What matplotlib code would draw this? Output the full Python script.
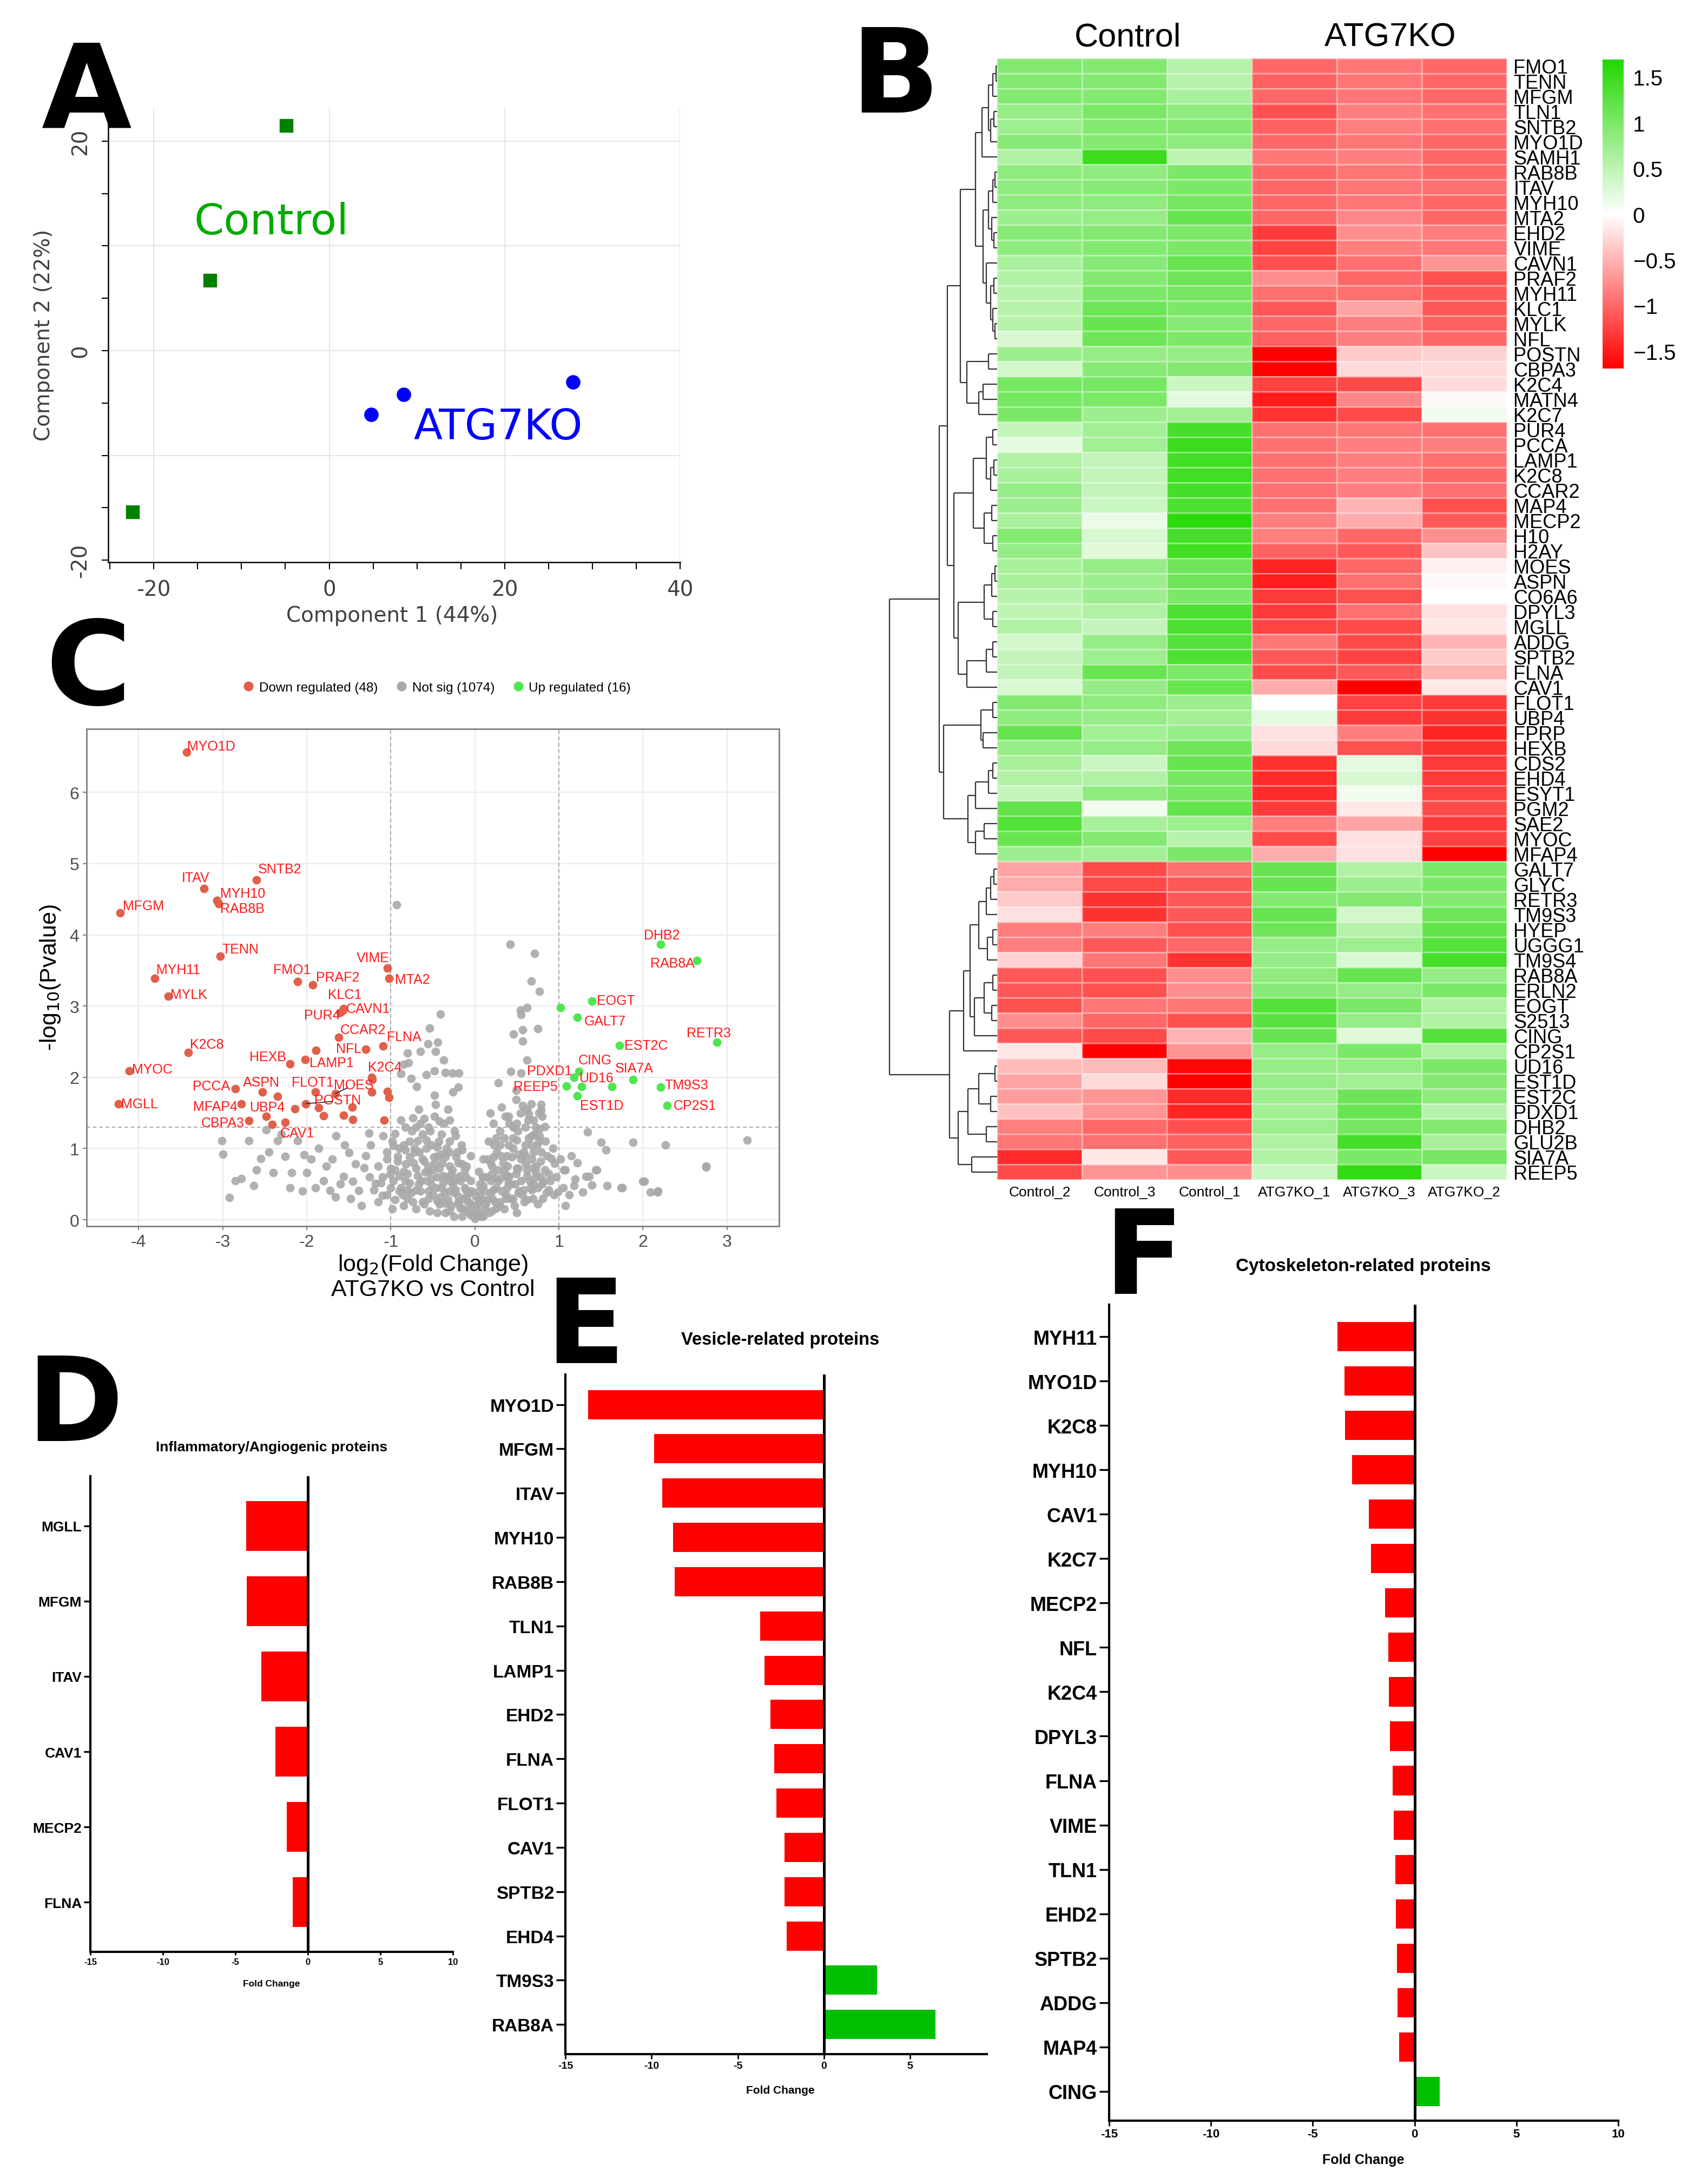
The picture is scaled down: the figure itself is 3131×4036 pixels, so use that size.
import numpy as np
import matplotlib
matplotlib.use("Agg")
import matplotlib.pyplot as plt
from matplotlib.colors import LinearSegmentedColormap
from matplotlib.lines import Line2D

plt.rcParams['font.family'] = ['Liberation Sans', 'DejaVu Sans']

# ---------------- data ----------------
# A: PCA scores
ctrl_pc1 = [-4.9, -13.6, -22.4]
ctrl_pc2 = [21.5, 6.7, -15.4]
ko_pc1 = [4.8, 8.5, 27.8]
ko_pc2 = [-6.1, -4.2, -3.0]

# B: heatmap (row z-scores)
heat_cols = ['Control_2', 'Control_3', 'Control_1', 'ATG7KO_1', 'ATG7KO_3', 'ATG7KO_2']
heat_genes = ['FMO1', 'TENN', 'MFGM', 'TLN1', 'SNTB2', 'MYO1D', 'SAMH1', 'RAB8B', 'ITAV', 'MYH10',
              'MTA2', 'EHD2', 'VIME', 'CAVN1', 'PRAF2', 'MYH11', 'KLC1', 'MYLK', 'NFL', 'POSTN',
              'CBPA3', 'K2C4', 'MATN4', 'K2C7', 'PUR4', 'PCCA', 'LAMP1', 'K2C8', 'CCAR2', 'MAP4',
              'MECP2', 'H10', 'H2AY', 'MOES', 'ASPN', 'CO6A6', 'DPYL3', 'MGLL', 'ADDG', 'SPTB2',
              'FLNA', 'CAV1', 'FLOT1', 'UBP4', 'FPRP', 'HEXB', 'CDS2', 'EHD4', 'ESYT1', 'PGM2',
              'SAE2', 'MYOC', 'MFAP4', 'GALT7', 'GLYC', 'RETR3', 'TM9S3', 'HYEP', 'UGGG1', 'TM9S4',
              'RAB8A', 'ERLN2', 'EOGT', 'S2513', 'CING', 'CP2S1', 'UD16', 'EST1D', 'EST2C', 'PDXD1',
              'DHB2', 'GLU2B', 'SIA7A', 'REEP5']
heat_values = [
    [0.95, 0.95, 0.55, -1.0, -0.9, -1.0],
    [0.95, 0.95, 0.55, -1.05, -0.9, -1.0],
    [0.95, 0.95, 0.65, -1.0, -0.9, -1.0],
    [0.8, 1.0, 0.85, -1.15, -0.85, -0.95],
    [0.75, 0.95, 0.95, -1.05, -0.85, -0.95],
    [0.9, 0.95, 0.85, -1.0, -0.9, -1.0],
    [0.6, 1.5, 0.5, -0.9, -0.85, -1.0],
    [0.85, 0.85, 1.0, -1.0, -0.9, -1.0],
    [0.85, 0.9, 1.0, -1.0, -0.9, -0.95],
    [0.85, 0.85, 1.05, -1.0, -0.9, -1.0],
    [0.75, 0.8, 1.15, -1.0, -0.8, -1.0],
    [0.9, 0.95, 1.0, -1.3, -0.75, -0.85],
    [0.85, 0.95, 1.0, -1.25, -0.85, -0.9],
    [0.65, 0.9, 1.15, -1.15, -0.95, -0.7],
    [0.6, 0.95, 1.1, -0.75, -1.0, -1.15],
    [0.55, 1.0, 1.05, -0.95, -0.95, -1.1],
    [0.55, 1.1, 1.0, -1.1, -0.6, -1.1],
    [0.55, 1.15, 0.9, -1.0, -0.85, -1.05],
    [0.3, 1.1, 1.0, -1.05, -0.85, -1.0],
    [0.75, 0.8, 0.8, -1.69, -0.35, -0.3],
    [0.35, 0.9, 0.95, -1.69, -0.25, -0.25],
    [1.05, 1.05, 0.4, -1.25, -1.2, -0.25],
    [1.05, 1.0, 0.2, -1.5, -0.8, -0.05],
    [1.0, 0.75, 0.7, -1.35, -1.2, 0.1],
    [0.45, 0.7, 1.4, -0.95, -0.9, -0.95],
    [0.2, 0.7, 1.5, -0.95, -0.85, -0.85],
    [0.6, 0.45, 1.45, -0.95, -0.85, -0.95],
    [0.65, 0.45, 1.45, -0.95, -0.85, -1.0],
    [0.8, 0.45, 1.4, -0.95, -0.85, -0.95],
    [0.75, 0.4, 1.35, -0.95, -0.5, -1.15],
    [0.65, 0.15, 1.6, -0.85, -0.55, -1.1],
    [0.95, 0.3, 1.4, -0.85, -1.0, -0.75],
    [0.8, 0.25, 1.45, -1.05, -1.1, -0.4],
    [0.65, 0.8, 1.1, -1.45, -1.0, -0.1],
    [0.65, 0.75, 1.1, -1.5, -0.95, -0.05],
    [0.55, 0.75, 1.0, -1.3, -1.15, 0.0],
    [0.5, 0.6, 1.35, -1.3, -0.95, -0.2],
    [0.6, 0.45, 1.35, -1.25, -1.2, -0.15],
    [0.35, 0.8, 1.3, -0.9, -1.2, -0.5],
    [0.45, 0.75, 1.35, -1.1, -1.25, -0.35],
    [0.45, 1.15, 1.0, -1.2, -1.1, -0.5],
    [0.3, 0.8, 1.15, -0.55, -1.69, -0.15],
    [0.95, 0.85, 0.75, 0.0, -1.25, -1.3],
    [0.85, 0.8, 0.7, 0.2, -1.3, -1.35],
    [1.15, 0.7, 0.8, -0.2, -0.85, -1.45],
    [0.8, 0.8, 1.1, -0.25, -1.15, -1.35],
    [0.65, 0.4, 1.15, -1.35, 0.2, -1.3],
    [0.6, 0.6, 1.05, -1.4, 0.3, -1.3],
    [0.45, 0.85, 1.05, -1.4, 0.1, -1.25],
    [1.2, 0.1, 1.2, -1.3, -0.15, -1.2],
    [1.3, 0.65, 0.75, -0.85, -0.6, -1.3],
    [1.15, 0.95, 0.55, -1.2, -0.2, -1.25],
    [0.75, 0.7, 1.0, -0.55, -0.2, -1.69],
    [-0.6, -1.2, -0.95, 1.15, 0.6, 1.0],
    [-0.55, -1.2, -1.1, 1.15, 0.75, 1.0],
    [-0.35, -1.35, -1.1, 0.95, 0.95, 0.95],
    [-0.2, -1.35, -1.1, 1.15, 0.35, 1.1],
    [-0.85, -0.85, -1.15, 1.1, 0.55, 1.2],
    [-0.85, -1.1, -1.0, 0.8, 0.75, 1.3],
    [-0.3, -0.9, -1.35, 0.8, 0.3, 1.4],
    [-1.1, -1.15, -0.75, 0.85, 1.15, 0.8],
    [-1.1, -1.15, -0.75, 0.9, 0.8, 1.0],
    [-1.15, -0.9, -0.9, 1.3, 1.0, 0.6],
    [-0.75, -1.0, -1.15, 1.25, 0.8, 0.6],
    [-1.1, -1.2, -0.5, 1.15, 0.25, 1.3],
    [-0.15, -1.69, -0.7, 0.8, 1.0, 0.6],
    [-0.45, -0.45, -1.65, 0.8, 0.8, 1.0],
    [-0.6, -0.25, -1.69, 0.8, 0.7, 0.95],
    [-0.65, -0.7, -1.4, 0.75, 1.1, 0.85],
    [-0.4, -0.7, -1.45, 0.7, 1.15, 0.55],
    [-0.85, -1.0, -1.15, 0.75, 1.05, 0.95],
    [-0.9, -0.95, -1.05, 0.6, 1.4, 0.65],
    [-1.4, -0.15, -1.1, 0.6, 1.0, 1.05],
    [-1.2, -0.7, -0.75, 0.4, 1.55, 0.4],
]

# row dendrogram: (height, left, right), leaves are row indices
G1 = (0.14, (0.08, (0.04, (0.01, 0, 1), 2), (0.06, (0.03, 3, 4), 5)), 6)
G2 = (0.13, (0.08, (0.04, (0.02, 7, 8), 9), (0.05, 10, (0.03, 11, 12))),
      (0.10, 13, (0.06, (0.03, 14, 15), (0.04, 16, (0.02, 17, 18)))))
A12 = (0.34, (0.20, G1, G2), (0.28, (0.08, 19, 20), (0.17, (0.13, 21, 22), 23)))
A3a = (0.22, (0.10, (0.04, 24, 25), (0.06, (0.03, 26, 27), 28)), (0.12, (0.05, 29, 30), (0.04, 31, 32)))
A3b = (0.36, (0.12, (0.05, (0.02, 33, 34), 35), (0.04, 36, 37)), (0.28, (0.10, (0.04, 38, 39), 40), 41))
B_grp = (0.50, (0.15, (0.04, 42, 43), (0.13, 44, 45)),
         (0.27, (0.20, (0.08, (0.04, 46, 47), 48), 49), (0.20, (0.12, 50, 51), 52)))
top_grp = (0.54, (0.46, A12, (0.40, A3a, A3b)), B_grp)
C1a = (0.25, (0.17, (0.10, (0.06, (0.03, 53, 54), 55), 56), (0.09, (0.04, 57, 58), 59)),
       (0.21, (0.12, (0.04, 60, 61), (0.05, 62, 63)), 64))
C2 = (0.36, (0.27, (0.17, (0.02, 66, 67), (0.06, 68, 69)), (0.10, 70, 71)), (0.235, 72, 73))
dendro_tree = (1.0, top_grp, (0.44, (0.31, C1a, 65), C2))

# C: volcano
down_names = ['MYO1D', 'SNTB2', 'ITAV', 'MYH10', 'RAB8B', 'MFGM', 'TENN', 'VIME', 'MTA2', 'FMO1',
              'PRAF2', 'MYH11', 'MYLK', 'KLC1', 'CAVN1', 'PUR4', 'CCAR2', 'FLNA', 'NFL', 'K2C8',
              'HEXB', 'LAMP1', 'MYOC', 'K2C4', 'PCCA', 'ASPN', 'FLOT1', 'MOES', 'POSTN', 'MGLL',
              'MFAP4', 'UBP4', 'CBPA3', 'CAV1']
down_x = [-3.43, -2.60, -3.22, -3.07, -3.05, -4.22, -3.03, -1.04, -1.02, -2.11,
          -1.93, -3.81, -3.65, -1.56, -1.57, -1.60, -1.62, -1.09, -1.30, -3.41,
          -2.20, -2.02, -4.11, -1.23, -2.85, -2.53, -1.90, -1.66, -2.01, -4.24,
          -2.78, -2.14, -2.69, -2.26]
down_y = [6.56, 4.77, 4.65, 4.48, 4.44, 4.31, 3.70, 3.53, 3.39, 3.34,
          3.30, 3.39, 3.14, 2.96, 2.94, 2.91, 2.56, 2.44, 2.39, 2.35,
          2.19, 2.25, 2.09, 2.00, 1.84, 1.79, 1.79, 1.77, 1.63, 1.63,
          1.63, 1.56, 1.39, 1.37]
down_extra_x = [-1.89, -1.22, -2.35, -1.23, -1.04, -1.02, -1.86, -1.80, -1.56, -1.46, -1.45, -2.48, -2.41, -1.08]
down_extra_y = [2.38, 1.97, 1.73, 1.79, 1.80, 1.72, 1.57, 1.46, 1.47, 1.58, 1.41, 1.45, 1.34, 1.40]

up_names = ['DHB2', 'RAB8A', 'EOGT', 'GALT7', 'RETR3', 'EST2C', 'CING', 'PDXD1', 'SIA7A', 'UD16',
            'REEP5', 'TM9S3', 'EST1D', 'CP2S1']
up_x = [2.21, 2.64, 1.39, 1.22, 2.88, 1.72, 1.24, 1.18, 1.88, 1.27, 1.09, 2.21, 1.22, 2.29]
up_y = [3.87, 3.64, 3.07, 2.84, 2.49, 2.45, 2.08, 2.00, 1.97, 1.87, 1.88, 1.86, 1.74, 1.60]
up_extra_x = [1.02, 1.63]
up_extra_y = [2.98, 1.87]

ns_points = [
    (-0.93, 4.42), (0.42, 3.87), (0.71, 3.74), (0.67, 3.35), (0.77, 3.21), (0.62, 2.98), (0.54, 2.94),
    (0.55, 2.88), (-0.41, 2.89), (-0.54, 2.69), (0.57, 2.67), (0.46, 2.61), (0.75, 2.68), (0.57, 2.51),
    (-0.44, 2.49), (-0.56, 2.47), (-0.65, 2.36), (-0.47, 2.36), (-0.80, 2.34), (-0.37, 2.24), (0.62, 2.24),
    (-0.79, 2.20), (-0.85, 2.18), (-0.48, 2.09), (-0.35, 2.07), (-0.27, 2.06), (-0.19, 2.06), (-0.58, 2.04),
    (-0.76, 1.98), (-0.88, 2.05), (0.43, 2.08), (0.55, 2.06), (0.28, 1.92), (-0.69, 1.87), (-0.20, 1.86),
    (-0.26, 1.79), (0.49, 1.82), (0.49, 1.69), (0.67, 1.63), (0.79, 1.62), (0.79, 1.54), (0.32, 1.58),
    (0.18, 1.50), (0.83, 1.31), (1.34, 1.23), (1.50, 1.09), (1.56, 0.98), (1.88, 1.09), (2.27, 1.05),
    (3.24, 1.12), (2.75, 0.74), (2.00, 0.54), (2.09, 0.39), (2.18, 0.40), (1.74, 0.45), (1.44, 0.70),
    (1.32, 0.61), (1.19, 0.57), (1.39, 0.49), (1.28, 0.39), (1.08, 0.70), (0.95, 0.79), (1.08, 0.20),
    (0.88, 0.42), (0.99, 0.39), (0.77, 1.28), (0.77, 1.18), (-1.09, 1.18), (-0.97, 1.04), (-0.83, 0.98),
    (-1.26, 1.22),
    (-3.01, 1.11), (-3.00, 0.92), (-2.92, 0.31), (-2.69, 1.11), (-2.78, 0.58), (-2.63, 0.48), (-2.55, 0.86),
    (-2.48, 1.26), (-2.40, 0.66), (-2.35, 1.11), (-2.26, 0.89), (-2.18, 0.66), (-2.11, 1.11), (-2.03, 0.91),
    (-2.00, 0.66), (-1.90, 0.45), (-1.86, 1.00), (-1.77, 0.75), (-1.72, 0.41), (-1.66, 0.32), (-1.65, 1.18),
    (-1.56, 0.61), (-1.50, 0.94), (-1.45, 0.54), (-1.38, 0.41), (-1.32, 0.73), (-1.24, 1.05), (-1.18, 0.51),
    (-1.10, 0.34), (-1.01, 0.64), (-0.92, 0.89), (-0.95, 1.21), (-0.80, 0.42), (-0.74, 1.43), (-0.68, 1.11),
    (-0.59, 0.67), (-0.50, 0.35), (-0.48, 1.75), (-0.39, 0.92), (-0.35, 0.23), (-0.29, 0.54), (-0.23, 1.18),
    (-0.17, 0.16), (-0.11, 0.42), (-0.05, 0.07), (0.04, 0.23), (0.10, 0.48), (0.19, 0.80), (0.25, 0.16),
    (0.30, 1.05), (0.37, 0.35), (0.41, 0.61), (0.46, 1.30), (0.52, 0.92), (0.58, 0.42), (0.64, 1.49),
    (0.70, 0.73), (0.76, 1.11), (0.82, 0.54), (0.91, 0.86), (0.94, 0.35), (1.06, 0.70), (1.18, 0.48),
    (1.36, 0.61), (1.45, 0.70), (1.57, 0.48), (1.75, 0.45), (2.02, 0.54), (2.17, 0.39), (2.75, 0.75),
    (-0.90, 0.62), (-0.86, 0.35), (-0.82, 0.78), (-0.78, 0.52), (-0.74, 0.25), (-0.72, 0.95), (-0.68, 0.62),
    (-0.65, 0.40), (-0.62, 1.20), (-0.60, 0.82), (-0.57, 0.55), (-0.55, 0.30), (-0.52, 1.05), (-0.50, 0.70),
    (-0.48, 1.45), (-0.46, 0.45), (-0.44, 0.90), (-0.42, 0.22), (-0.40, 1.20), (-0.38, 0.62), (-0.36, 0.38),
    (-0.34, 1.00), (-0.32, 1.55), (-0.30, 0.75), (-0.28, 0.20), (-0.26, 0.50), (-0.24, 1.25), (-0.22, 0.88),
    (-0.20, 0.33), (-0.18, 0.62), (-0.16, 1.05), (-0.14, 0.15), (-0.12, 0.45), (-0.10, 0.75), (-0.08, 0.25),
    (-0.06, 0.10), (-0.04, 0.40), (-0.02, 0.05), (0.00, 0.02), (0.02, 0.20), (0.04, 0.08), (0.06, 0.50),
    (0.08, 0.30), (0.10, 0.85), (0.12, 0.15), (0.14, 0.60), (0.16, 1.10), (0.18, 0.38), (0.20, 0.75),
    (0.22, 1.35), (0.24, 0.25), (0.26, 0.95), (0.28, 0.55), (0.30, 1.25), (0.32, 0.40), (0.34, 0.80),
    (0.36, 1.45), (0.38, 0.62), (0.40, 1.05), (0.42, 0.30), (0.44, 0.88), (0.46, 1.30), (0.48, 0.50),
    (0.50, 1.12), (0.52, 0.72), (0.54, 1.50), (0.56, 0.35), (0.58, 0.95), (0.60, 1.30), (0.62, 0.62),
    (0.64, 1.15), (0.66, 0.45), (0.68, 0.85), (0.70, 1.40), (0.72, 0.60), (0.74, 1.05), (0.78, 0.82),
    (0.80, 0.50), (0.84, 1.10), (0.88, 0.65),
    (-1.15, 0.25), (-1.10, 0.60), (-1.05, 0.85), (-1.00, 0.45), (-0.98, 0.15), (-0.95, 0.70), (-0.90, 1.00),
    (-0.88, 0.45), (-0.85, 0.20), (-0.83, 1.30), (-0.80, 0.65), (-0.78, 1.10), (-0.76, 0.38), (-0.73, 0.80),
    (-0.70, 1.30), (-0.70, 0.15), (-0.67, 1.55), (-0.66, 0.95), (-0.64, 0.55), (-0.62, 0.25), (-0.60, 1.42),
    (-0.58, 1.00), (-0.56, 0.75), (-0.54, 0.12), (-0.53, 1.25), (-0.51, 0.48), (-0.49, 0.88), (-0.47, 1.62),
    (-0.45, 0.60), (-0.43, 1.10), (-0.41, 0.32), (-0.39, 0.80), (-0.37, 1.35), (-0.35, 0.10), (-0.33, 0.60),
    (-0.31, 0.95), (-0.30, 0.40), (-0.27, 0.70), (-0.25, 0.05), (-0.23, 0.42), (-0.21, 0.95), (-0.19, 0.22),
    (-0.17, 0.55), (-0.15, 0.78), (-0.13, 0.30), (-0.11, 0.60), (-0.09, 0.12), (-0.07, 0.38), (-0.03, 0.18),
    (0.01, 0.33), (0.03, 0.12), (0.05, 0.28), (0.07, 0.05), (0.09, 0.60), (0.11, 0.40), (0.13, 0.22),
    (0.15, 0.85), (0.17, 0.10), (0.19, 0.55), (0.21, 0.30), (0.23, 1.05), (0.25, 0.45), (0.27, 0.70),
    (0.29, 0.20), (0.31, 0.90), (0.33, 0.60), (0.35, 1.15), (0.37, 0.30), (0.39, 0.75), (0.41, 1.35),
    (0.43, 0.50), (0.45, 1.00), (0.47, 0.20), (0.49, 0.65), (0.51, 1.25), (0.53, 0.40), (0.55, 0.85),
    (0.57, 1.60), (0.59, 0.25), (0.61, 0.78), (0.63, 1.40), (0.65, 0.55), (0.67, 1.05), (0.69, 0.30),
    (0.71, 1.20), (0.73, 0.75), (0.75, 0.45), (0.76, 1.50), (0.79, 0.95), (0.81, 0.30), (0.83, 0.70),
    (0.86, 0.90), (0.90, 0.55), (0.93, 1.00), (0.97, 0.60), (1.02, 0.85), (1.05, 0.45), (1.12, 0.35),
    (1.15, 0.90), (1.22, 0.80),
    (-1.30, 0.90), (-1.35, 0.20), (-1.42, 0.78), (-1.48, 0.30), (-1.55, 1.05), (-1.60, 0.50), (-1.70, 0.85),
    (-1.80, 0.55), (-1.95, 0.85), (-2.05, 0.40), (-2.20, 0.45), (-2.30, 1.20), (-2.45, 0.95), (-2.60, 0.70),
    (-2.85, 0.55),
    (-0.45, 0.10), (-0.30, 0.12), (-0.15, 0.05), (0.10, 0.05), (0.20, 0.12), (0.35, 0.15), (0.50, 0.10),
    (-0.95, 0.28), (-0.80, 0.30), (-0.60, 0.22), (-0.45, 0.27), (-0.32, 0.28), (-0.20, 0.25), (-0.05, 0.22),
    (0.15, 0.28), (0.30, 0.25), (0.45, 0.30), (0.62, 0.28), (0.75, 0.22),
    (-1.20, 0.42), (-1.05, 0.35), (-0.90, 0.40), (-0.70, 0.42), (-0.55, 0.40), (-0.40, 0.45), (-0.25, 0.38),
    (-0.10, 0.32), (0.05, 0.40), (0.22, 0.42), (0.38, 0.45), (0.52, 0.38), (0.68, 0.42), (0.85, 0.38),
    (-1.25, 0.60), (-1.12, 0.52), (-0.97, 0.55), (-0.83, 0.55), (-0.67, 0.50), (-0.52, 0.58), (-0.38, 0.52),
    (-0.22, 0.58), (-0.05, 0.55), (0.10, 0.60), (0.25, 0.58), (0.40, 0.52), (0.55, 0.55), (0.70, 0.50),
    (0.78, 0.60),
    (-1.15, 0.75), (-1.00, 0.72), (-0.85, 0.68), (-0.70, 0.72), (-0.55, 0.68), (-0.42, 0.72), (-0.28, 0.65),
    (-0.12, 0.70), (0.05, 0.68), (0.20, 0.65), (0.35, 0.70), (0.50, 0.72), (0.62, 0.70), (0.72, 0.68),
    (-1.05, 0.95), (-0.92, 0.82), (-0.78, 0.88), (-0.62, 0.85), (-0.48, 0.80), (-0.35, 0.88), (-0.20, 0.80),
    (-0.05, 0.90), (0.22, 0.88), (0.38, 0.90), (0.60, 0.90), (0.70, 0.95),
    (-0.98, 1.10), (-0.85, 1.05), (-0.72, 1.00), (-0.58, 1.12), (-0.45, 1.02), (-0.30, 1.10), (-0.15, 0.98),
    (0.25, 1.15), (0.45, 1.15), (0.60, 1.05), (0.68, 1.18),
    (-0.88, 1.40), (-0.75, 1.25), (-0.65, 1.35), (-0.55, 1.30), (-0.42, 1.38), (-0.30, 1.40), (0.40, 1.45),
    (0.50, 1.35), (0.62, 1.55), (0.72, 1.30), (0.80, 1.45),
]

# D, E, F: fold changes
d_names = ['MGLL', 'MFGM', 'ITAV', 'CAV1', 'MECP2', 'FLNA']
d_vals = [-4.25, -4.21, -3.22, -2.24, -1.45, -1.06]
e_names = ['MYO1D', 'MFGM', 'ITAV', 'MYH10', 'RAB8B', 'TLN1', 'LAMP1', 'EHD2', 'FLNA', 'FLOT1',
           'CAV1', 'SPTB2', 'EHD4', 'TM9S3', 'RAB8A']
e_vals = [-13.69, -9.85, -9.37, -8.76, -8.67, -3.71, -3.46, -3.12, -2.87, -2.76,
          -2.28, -2.28, -2.15, 3.08, 6.48]
f_names = ['MYH11', 'MYO1D', 'K2C8', 'MYH10', 'CAV1', 'K2C7', 'MECP2', 'NFL', 'K2C4', 'DPYL3',
           'FLNA', 'VIME', 'TLN1', 'EHD2', 'SPTB2', 'ADDG', 'MAP4', 'CING']
f_vals = [-3.80, -3.45, -3.41, -3.06, -2.25, -2.14, -1.46, -1.29, -1.27, -1.22,
          -1.07, -1.03, -0.94, -0.92, -0.87, -0.83, -0.76, 1.24]

# ---------------- layout helpers ----------------
W, H = 3131, 4037
fig = plt.figure(figsize=(W / 100, H / 100), dpi=100)


def rect(l, t, r, b):
    return [l / W, 1 - b / H, (r - l) / W, (b - t) / H]


def ftext(x, y, s, **kw):
    return fig.text(x / W, 1 - y / H, s, **kw)


# panel letters
for letter, lx, ly in [('A', 77, 236), ('B', 1572, 208), ('C', 84, 1302),
                       ('D', 49, 2663), ('E', 1008, 2519), ('F', 2040, 2391)]:
    ftext(lx, ly, letter, fontsize=155, fontweight='heavy', family='DejaVu Sans', va='baseline')

# ---------------- A: PCA ----------------
axA = fig.add_axes(rect(200, 200, 1257, 1040))
axA.set_xlim(-25.2, 40)
axA.set_ylim(-20.2, 23.2)
for gx in [-20, 0, 20, 40]:
    axA.axvline(gx, color='#E6E6E6', lw=1.5, zorder=0)
for gy in np.arange(-10, 21, 10):
    axA.axhline(gy, color='#E6E6E6', lw=1.5, zorder=0)
axA.scatter(ctrl_pc1, ctrl_pc2, marker='s', s=300, color='#008000', zorder=3)
axA.scatter(ko_pc1, ko_pc2, marker='o', s=330, color='#0000FF', zorder=3)
axA.text(-15.4, 12.3, 'Control', color='#00AA00', fontsize=57, family='DejaVu Sans', va='center')
axA.text(9.6, -7.3, 'ATG7KO', color='#0000FF', fontsize=56, family='DejaVu Sans', va='center')
axA.set_xticks([-20, 0, 20, 40])
axA.set_xticks(np.arange(-25, 41, 5), minor=True)
axA.set_yticks([-20, 0, 20])
axA.set_yticks(np.arange(-20, 21, 5), minor=True)
axA.set_xticklabels(['-20', '0', '20', '40'])
axA.set_yticklabels(['-20', '0', '20'])
for s in ['top', 'right']:
    axA.spines[s].set_visible(False)
for s in ['left', 'bottom']:
    axA.spines[s].set_linewidth(1.8)
axA.tick_params(which='both', length=9, width=1.5, color='black')
axA.tick_params(labelsize=28, labelcolor='#404040', pad=14)
for t in axA.get_xticklabels() + axA.get_yticklabels():
    t.set_family('DejaVu Sans')
plt.setp(axA.get_yticklabels(), rotation=90, va='center')
ftext(725, 1138, 'Component 1 (44%)', fontsize=28, color='#404040', family='DejaVu Sans',
      ha='center', va='center')
ftext(81, 619, 'Component 2 (22%)', fontsize=28, color='#404040', family='DejaVu Sans',
      ha='center', va='center', rotation=90)

# ---------------- B: heatmap ----------------
heat = np.array(heat_values)
n_rows = len(heat_genes)
cmap = LinearSegmentedColormap.from_list('rwg', ['#FF0000', '#FFFFFF', '#22D800'])
axH = fig.add_axes(rect(1843, 109, 2785, 2181))
mesh = axH.pcolormesh(heat, cmap=cmap, vmin=-1.69, vmax=1.69,
                      edgecolors=(1, 1, 1, 0.35), linewidth=0.8)
axH.set_xlim(0, 6)
axH.set_ylim(n_rows, 0)
for s in axH.spines.values():
    s.set_visible(False)
axH.yaxis.tick_right()
axH.set_yticks(np.arange(n_rows) + 0.5)
axH.set_yticklabels(heat_genes, family=['Liberation Sans Narrow', 'Liberation Sans'], fontsize=26)
axH.set_xticks(np.arange(6) + 0.5)
axH.set_xticklabels(heat_cols, fontsize=19)
axH.tick_params(length=0)
axH.tick_params(axis='y', pad=9)
axH.tick_params(axis='x', pad=8)
ftext(2085, 70, 'Control', fontsize=44, ha='center', va='center')
ftext(2570, 70, 'ATG7KO', fontsize=44, ha='center', va='center')

axD0 = fig.add_axes(rect(1644, 109, 1843, 2181))
axD0.set_xlim(1.0, 0)
axD0.set_ylim(n_rows, 0)
axD0.axis('off')


def draw_tree(node):
    if isinstance(node, int):
        return node + 0.5, 0.0
    h, a, b = node
    ya, ha = draw_tree(a)
    yb, hb = draw_tree(b)
    kw = dict(color='#333333', lw=1.6, clip_on=False, solid_capstyle='butt')
    axD0.plot([ha, h], [ya, ya], **kw)
    axD0.plot([hb, h], [yb, yb], **kw)
    axD0.plot([h, h], [ya, yb], **kw)
    return (ya + yb) / 2, h


draw_tree(dendro_tree)

cax = fig.add_axes(rect(2962, 111, 3001, 682))
cb = fig.colorbar(mesh, cax=cax, ticks=[-1.5, -1, -0.5, 0, 0.5, 1, 1.5])
cb.outline.set_visible(False)
cb.set_ticklabels(['\u22121.5', '\u22121', '\u22120.5', '0', '0.5', '1', '1.5'])
cax.tick_params(length=0, labelsize=29, pad=12)

# ---------------- C: volcano ----------------
axC = fig.add_axes(rect(160, 1348, 1440, 2267))
axC.set_xlim(-4.62, 3.62)
axC.set_ylim(-0.09, 6.89)
axC.set_xticks(np.arange(-4, 4))
axC.set_xticklabels(['-4', '-3', '-2', '-1', '0', '1', '2', '3'])
axC.set_yticks(np.arange(0, 7))
axC.grid(True, color='#EBEBEB', lw=1.5)
axC.set_axisbelow(True)
for s in axC.spines.values():
    s.set_color('#808080')
    s.set_linewidth(2.0)
axC.tick_params(length=5, width=1.5, color='#808080', labelsize=23, labelcolor='#4D4D4D', pad=5)
dash = dict(color='#9A9A9A', lw=1.2, ls=(0, (4, 3)), zorder=1)
axC.axvline(-1, **dash)
axC.axvline(1, **dash)
axC.axhline(-np.log10(0.05), **dash)
ns = np.array(ns_points)
gray_c, red_c, green_c = '#A9A9A9', '#E0604A', '#4EE64E'
axC.scatter(ns[:, 0], ns[:, 1], s=130, color=gray_c, alpha=0.9, lw=0, zorder=2)
axC.scatter(down_x + down_extra_x, down_y + down_extra_y, s=130, color=red_c, lw=0, zorder=3)
axC.scatter(up_x + up_extra_x, up_y + up_extra_y, s=130, color=green_c, lw=0, zorder=3)

# label placement (text left edge, centre) in data units
down_lab = {'MYO1D': (-3.42, 6.65), 'SNTB2': (-2.58, 4.92), 'ITAV': (-3.49, 4.80), 'MYH10': (-3.03, 4.58),
            'RAB8B': (-3.03, 4.37), 'MFGM': (-4.19, 4.41), 'TENN': (-3.01, 3.80), 'VIME': (-1.41, 3.68),
            'MTA2': (-0.95, 3.37), 'FMO1': (-2.40, 3.51), 'PRAF2': (-1.89, 3.40), 'MYH11': (-3.79, 3.51),
            'MYLK': (-3.62, 3.16), 'KLC1': (-1.75, 3.16), 'CAVN1': (-1.53, 2.96), 'PUR4': (-2.03, 2.87),
            'CCAR2': (-1.60, 2.67), 'FLNA': (-1.05, 2.57), 'NFL': (-1.65, 2.40), 'K2C8': (-3.39, 2.46),
            'HEXB': (-2.68, 2.29), 'LAMP1': (-1.97, 2.20), 'MYOC': (-4.08, 2.11), 'K2C4': (-1.27, 2.14),
            'PCCA': (-3.36, 1.88), 'ASPN': (-2.76, 1.93), 'FLOT1': (-2.18, 1.93), 'MOES': (-1.68, 1.89),
            'POSTN': (-1.91, 1.68), 'MGLL': (-4.21, 1.63), 'MFAP4': (-3.35, 1.59), 'UBP4': (-2.68, 1.58),
            'CBPA3': (-3.26, 1.36), 'CAV1': (-2.32, 1.22)}
up_lab = {'DHB2': (2.01, 4.00), 'RAB8A': (2.09, 3.60), 'EOGT': (1.45, 3.08), 'GALT7': (1.30, 2.79),
          'RETR3': (2.52, 2.62), 'EST2C': (1.78, 2.45), 'CING': (1.23, 2.24), 'PDXD1': (0.62, 2.09),
          'SIA7A': (1.67, 2.13), 'UD16': (1.24, 1.99), 'REEP5': (0.46, 1.87), 'TM9S3': (2.26, 1.89),
          'EST1D': (1.25, 1.60), 'CP2S1': (2.36, 1.60)}
seg_end = {'MOES': (-1.52, 1.85), 'POSTN': (-1.70, 1.66)}
for names, xs, ys, lab in [(down_names, down_x, down_y, down_lab), (up_names, up_x, up_y, up_lab)]:
    for nm, px, py in zip(names, xs, ys):
        tx, ty = lab[nm]
        axC.text(tx, ty, nm, color='#FF1A1A', fontsize=18, ha='left', va='center', zorder=4)
        if nm in seg_end:
            ex, ey = seg_end[nm]
            axC.plot([px, ex], [py, ey], color='#222222', lw=1.2, zorder=4)
handles = [Line2D([], [], marker='o', ls='', color=c, markersize=12) for c in (red_c, gray_c, green_c)]
axC.legend(handles, ['Down regulated (48)', 'Not sig (1074)', 'Up regulated (16)'],
           loc='center', bbox_to_anchor=(0.506, 1.083), ncol=3, frameon=False, fontsize=17.5,
           handlelength=0.8, handletextpad=0.4, columnspacing=1.4, borderpad=0)
ftext(93, 1807, '-log$_{10}$(Pvalue)', fontsize=31, ha='center', va='center', rotation=90)
ftext(800, 2360, 'log$_2$(Fold Change)\nATG7KO vs Control', fontsize=31, ha='center',
      va='center', linespacing=1.15)


# ---------------- D, E, F: bar charts ----------------
def bar_panel(box, names, vals, xlim, xticks, pads, ylab_fs, xtick_fs, tick_len):
    ax = fig.add_axes(rect(*box))
    pos = np.arange(len(names))
    colors = ['#FF0000' if v < 0 else '#00BF00' for v in vals]
    ax.barh(pos, vals, height=0.66, color=colors, zorder=2)
    ax.axvline(0, color='black', lw=3.6, zorder=3)
    ax.set_xlim(*xlim)
    ax.set_ylim(len(names) - 1 + pads[1], -pads[0])
    ax.set_xticks(xticks)
    ax.set_xticklabels([str(t) for t in xticks], fontweight='bold', fontsize=xtick_fs)
    ax.set_yticks(pos)
    ax.set_yticklabels(names, fontweight='bold', fontsize=ylab_fs)
    for s in ['top', 'right']:
        ax.spines[s].set_visible(False)
    for s in ['left', 'bottom']:
        ax.spines[s].set_linewidth(3.0)
    ax.tick_params(axis='y', length=tick_len, width=2.4, pad=3)
    ax.tick_params(axis='x', length=tick_len * 0.55, width=2.0, pad=3)
    return ax


bar_panel((167, 2729, 837, 3608), d_names, d_vals, (-15, 10), [-15, -10, -5, 0, 5, 10],
          (0.66, 0.66), 19, 12, 8.5)
ftext(502, 2675, 'Inflammatory/Angiogenic proteins', fontsize=19, fontweight='bold', ha='center', va='center')
ftext(502, 3667, 'Fold Change', fontsize=12.5, fontweight='bold', ha='center', va='center')

bar_panel((1045, 2541, 1824, 3797), e_names, e_vals, (-15, 9.45), [-15, -10, -5, 0, 5],
          (0.68, 0.67), 24, 14, 12)
ftext(1442, 2477, 'Vesicle-related proteins', fontsize=23.5, fontweight='bold', ha='center', va='center')
ftext(1442, 3864, 'Fold Change', fontsize=15, fontweight='bold', ha='center', va='center')

bar_panel((2050, 2412, 2991, 3920), f_names, f_vals, (-15, 10), [-15, -10, -5, 0, 5, 10],
          (0.72, 0.66), 26, 16, 13)
ftext(2520, 2341, 'Cytoskeleton-related proteins', fontsize=24, fontweight='bold', ha='center', va='center')
ftext(2520, 3992, 'Fold Change', fontsize=18, fontweight='bold', ha='center', va='center')

fig.savefig('out.png', dpi=100)
